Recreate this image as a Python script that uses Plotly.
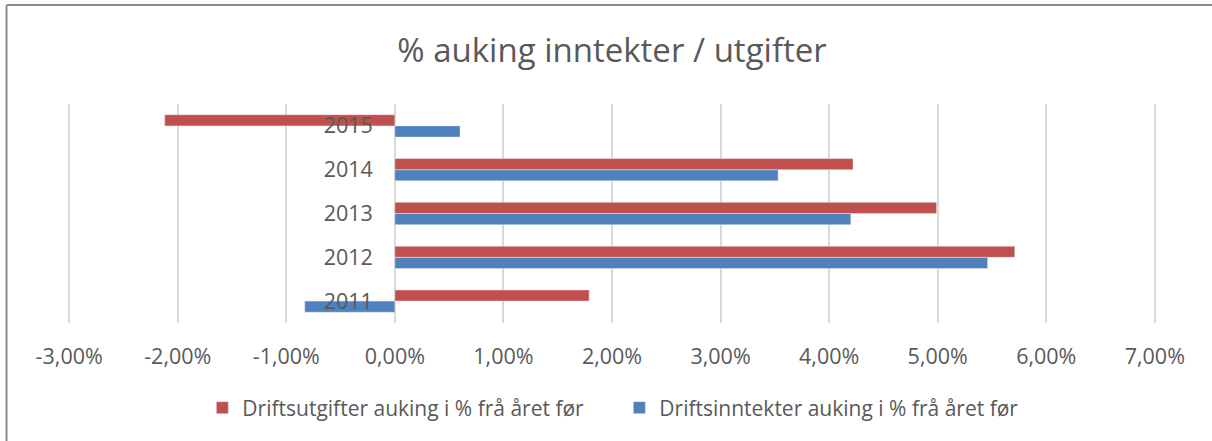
import plotly.graph_objects as go

years = ["2011", "2012", "2013", "2014", "2015"]
utgifter = [1.79, 5.71, 4.99, 4.22, -2.12]   # Driftsutgifter, % change
inntekter = [-0.83, 5.46, 4.20, 3.53, 0.60]  # Driftsinntekter, % change
x_ticks = [-3, -2, -1, 0, 1, 2, 3, 4, 5, 6, 7]
x_tick_labels = ["-3,00%", "-2,00%", "-1,00%", "0,00%", "1,00%", "2,00%",
                 "3,00%", "4,00%", "5,00%", "6,00%", "7,00%"]

name_utg = "Driftsutgifter auking i % frå året før"
name_inn = "Driftsinntekter auking i % frå året før"

RED = "#C0504D"
BLUE = "#4F81BD"
TXT = "#595959"
FONT = "Open Sans"

fig = go.Figure()
fig.add_trace(go.Bar(y=years, x=inntekter, orientation="h", name=name_inn,
                     marker=dict(color=BLUE), legendrank=2))
fig.add_trace(go.Bar(y=years, x=utgifter, orientation="h", name=name_utg,
                     marker=dict(color=RED), legendrank=1))

W, H = 1212, 441
pxu = 108.5          # pixels per 1 % unit
pad = 0.02           # small range padding so edge gridlines are drawn
left = 69.6 - pad * pxu
right = 1154.6 + pad * pxu
top, bottom = 104, 323
xr0, xr1 = -3 - pad, 7 + pad

fig.update_layout(
    width=W, height=H,
    margin=dict(l=left, r=W - right, t=top, b=H - bottom, autoexpand=False),
    paper_bgcolor="white", plot_bgcolor="white",
    barmode="group", bargap=0.49, bargroupgap=0,
    font=dict(family=FONT, color=TXT, size=21.5),
    title=dict(text="% auking inntekter / utgifter", x=0.505, xanchor="center",
               y=1 - 50 / H, yanchor="middle", yref="container",
               font=dict(family=FONT, size=33, color=TXT)),
    showlegend=True,
    legend=dict(orientation="h", x=0.511, xanchor="center", xref="container",
                y=1 - 408 / H, yanchor="middle", yref="container",
                font=dict(family=FONT, size=21, color=TXT),
                itemwidth=30, traceorder="normal", entrywidth=372,
                entrywidthmode="pixels"),
    xaxis=dict(range=[xr0, xr1], tickmode="array", tickvals=x_ticks,
               ticktext=x_tick_labels, showgrid=True, gridcolor="#D9D9D9",
               gridwidth=1.5, zeroline=False, showline=False,
               ticks="", ticklabelstandoff=18,
               tickfont=dict(family=FONT, size=21.5, color=TXT), fixedrange=True),
    yaxis=dict(type="category", categoryorder="array", categoryarray=years,
               anchor="free", position=(0 - xr0) / (xr1 - xr0),
               showgrid=False, zeroline=False,
               showline=False, ticks="", ticklabelstandoff=22,
               tickfont=dict(family=FONT, size=21.5, color=TXT), fixedrange=True),
)

# chart border (top and left edges visible in reference)
def px_x(p):
    return (p - left) / (right - left)

def px_y(p):
    return (bottom - p) / (bottom - top)

fig.add_shape(type="line", xref="paper", yref="paper",
              x0=px_x(7), x1=px_x(1212), y0=px_y(5), y1=px_y(5),
              line=dict(color="#8C8C8C", width=2))
fig.add_shape(type="line", xref="paper", yref="paper",
              x0=px_x(7), x1=px_x(7), y0=px_y(441), y1=px_y(5),
              line=dict(color="#8C8C8C", width=2))

fig.write_html("out.html", config={"displayModeBar": False},
               post_script="document.body.style.margin='0px';")
